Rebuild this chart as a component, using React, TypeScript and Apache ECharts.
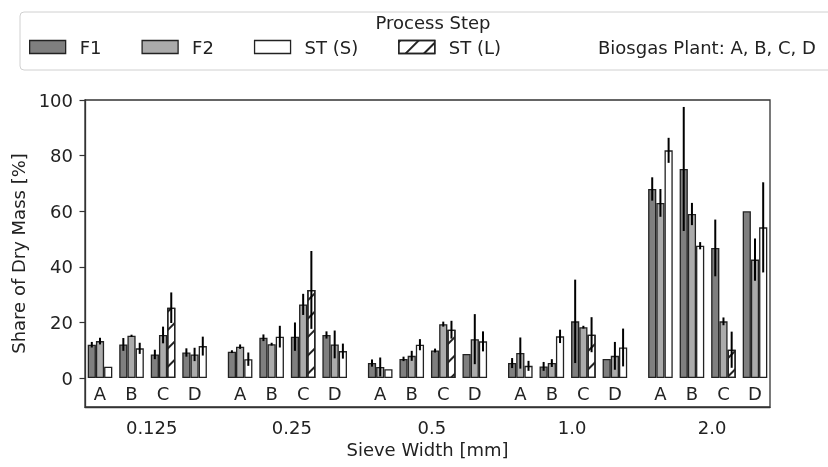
import React, { useEffect, useRef } from "react";
import * as echarts from "echarts";

const SIEVES = ["0.125", "0.25", "0.5", "1.0", "2.0"];
const PLANTS = ["A", "B", "C", "D"];
const Y_TICKS = [0, 20, 40, 60, 80, 100];

// values per sieve (rows) and plant A..D (columns)
const F1_VALUES = [
  [12, 12.1, 8.5, 9.2],
  [9.5, 14.5, 14.9, 15.5],
  [5.4, 6.9, 9.9, 8.7],
  [5.4, 4.2, 20.4, 6.9],
  [68, 75.2, 46.8, 60],
];
const F1_ERR = [
  [1, 2.3, 1.7, 1.5],
  [0.5, 1.2, 5.1, 1.3],
  [1.3, 0.8, 0.7, 0],
  [1.8, 1.6, 15, 0],
  [4.2, 22.3, 10.2, 0],
];
const F2_VALUES = [
  [13.3, 15.2, 15.5, 8.5],
  [11.3, 12.2, 26.5, 12.1],
  [4, 8, 19.4, 14],
  [9, 5.4, 18.3, 8],
  [63, 59, 20.4, 42.6],
];
const F2_ERR = [
  [1.2, 0.4, 3, 2.4],
  [0.8, 0.5, 3.8, 5],
  [3.4, 1.8, 0.9, 9],
  [5.6, 1.4, 0.5, 5],
  [5, 4, 1.4, 7.6],
];
// ST (S): plants A, B, D (C is null)
const ST_S_VALUES = [
  [4.1, 10.7, null, 11.5],
  [6.8, 14.9, null, 9.7],
  [3.2, 12, null, 13.2],
  [4.4, 15, null, 11],
  [81.9, 47.6, null, 54.2],
];
const ST_S_ERR = [
  [0, 2, null, 3.4],
  [2.4, 3.9, null, 2.7],
  [0, 2, null, 3.6],
  [1.8, 2.4, null, 6.8],
  [4.5, 1.3, null, 16.2],
];
// ST (L): plant C only, per sieve
const ST_L_VALUES = [25.3, 31.7, 17.4, 15.6, 10.2];
const ST_L_ERR = [5.5, 14, 3.2, 6.3, 6.5];

const GROUP_STEP = 4.444;
const X_MIN = -0.476;
const X_MAX = 4 * GROUP_STEP + 3 + 0.476;
const BAR_PX = 8.2;
const LABEL_SHIFT = 1.64;

const FONT = "DejaVu Sans";
const TXT = "#222";
const EDGE = "#222";

const plantX = (g: number, p: number) => g * GROUP_STEP + p;

const HATCH = {
  symbol: "rect",
  symbolSize: 1,
  color: "#222",
  backgroundColor: "#ffffff",
  dashArrayX: [1, 0],
  dashArrayY: [1.3, 11],
  rotation: -Math.PI / 4,
};

export default function App() {
  const ref = useRef<HTMLDivElement>(null);
  useEffect(() => {
    if (!ref.current) return;
    const chart = echarts.init(ref.current, undefined, { renderer: "svg" });

    const plantPos: number[] = [];
    const plantLbl: string[] = [];
    SIEVES.forEach((_, g) =>
      PLANTS.forEach((pl, p) => {
        plantPos.push(plantX(g, p));
        plantLbl.push(pl);
      })
    );
    const sievePos = SIEVES.map((_, g) => g * GROUP_STEP + LABEL_SHIFT);

    const f1: any[] = [];
    const f2: any[] = [];
    const sts: any[] = [];
    const stl: any[] = [];
    const errs: any[] = [];
    SIEVES.forEach((_, g) => {
      PLANTS.forEach((__, p) => {
        const x = plantX(g, p);
        f1.push([x, F1_VALUES[g][p]]);
        errs.push([x, F1_VALUES[g][p], F1_ERR[g][p], 0]);
        f2.push([x, F2_VALUES[g][p]]);
        errs.push([x, F2_VALUES[g][p], F2_ERR[g][p], 1]);
        const s = ST_S_VALUES[g][p];
        if (s !== null) {
          sts.push([x, s]);
          errs.push([x, s, ST_S_ERR[g][p] as number, 2]);
        } else {
          stl.push([x, ST_L_VALUES[g]]);
          errs.push([x, ST_L_VALUES[g], ST_L_ERR[g], 2]);
        }
      });
    });

    const lookup = (arr: number[], lbls: string[]) => (v: number) => {
      for (let i = 0; i < arr.length; i++) if (Math.abs(arr[i] - v) < 1e-6) return lbls[i];
      return "";
    };

    const barBase = {
      type: "bar",
      barWidth: BAR_PX,
      barGap: "0%",
      xAxisIndex: 0,
      yAxisIndex: 0,
    };

    chart.setOption({
      animation: false,
      textStyle: { fontFamily: FONT },
      grid: {
        left: 85,
        top: 100,
        width: 685,
        height: 307,
        show: true,
        borderColor: "#333",
        borderWidth: 1.3,
        backgroundColor: "transparent",
      },
      legend: {
        data: ["F1", "F2", "ST (S)", "ST (L)"],
        left: 29,
        top: 38,
        padding: 0,
        icon: "rect",
        itemWidth: 36,
        itemHeight: 13,
        itemGap: 40,
        selectedMode: false,
        itemStyle: { borderWidth: 1.3, borderColor: EDGE },
        textStyle: { fontSize: 18, color: TXT, fontFamily: FONT, padding: [0, 0, 0, 9] },
      },
      graphic: [
        {
          type: "rect",
          shape: { x: 20, y: 12, width: 900, height: 58, r: 4 },
          style: { fill: "#fff", stroke: "#d0d0d0", lineWidth: 1 },
          z: -10,
        },
        {
          type: "text",
          x: 433,
          y: 22,
          style: { text: "Process Step", fontSize: 18, fontFamily: FONT, fill: TXT, align: "center", verticalAlign: "middle" },
        },
        {
          type: "text",
          x: 598,
          y: 47,
          style: { text: "Biosgas Plant: A, B, C, D", fontSize: 18, fontFamily: FONT, fill: TXT, align: "left", verticalAlign: "middle" },
        },
      ],
      xAxis: [
        {
          type: "value",
          min: X_MIN,
          max: X_MAX,
          splitLine: { show: false },
          axisLine: { show: true, onZero: false, lineStyle: { color: "#333", width: 1.3 } },
          axisTick: { show: false },
          axisLabel: {
            customValues: sievePos,
            formatter: lookup(sievePos, SIEVES),
            fontSize: 18,
            color: TXT,
            fontFamily: FONT,
            margin: 11,
          },
          name: "Sieve Width [mm]",
          nameLocation: "middle",
          nameGap: 31,
          nameTextStyle: { fontSize: 18, color: TXT, fontFamily: FONT },
        },
        {
          type: "value",
          min: X_MIN,
          max: X_MAX,
          position: "bottom",
          splitLine: { show: false },
          axisLine: { show: false, onZero: false },
          axisTick: { show: false },
          axisLabel: {
            inside: true,
            customValues: plantPos,
            formatter: lookup(plantPos, plantLbl),
            fontSize: 18,
            color: TXT,
            fontFamily: FONT,
            margin: 5,
          },
        },
      ],
      yAxis: {
        type: "value",
        min: -10.4,
        max: 100,
        splitLine: { show: false },
        axisLine: { show: true, onZero: false, lineStyle: { color: "#333", width: 1.3 } },
        axisTick: { show: true, length: 5.5, customValues: Y_TICKS, lineStyle: { color: "#333", width: 1.2 } },
        axisLabel: { customValues: Y_TICKS, fontSize: 18, color: TXT, fontFamily: FONT, margin: 12 },
        name: "Share of Dry Mass [%]",
        nameLocation: "middle",
        nameGap: 57,
        nameTextStyle: { fontSize: 18, color: TXT, fontFamily: FONT },
      },
      series: [
        { ...barBase, name: "F1", data: f1, itemStyle: { color: "#7f7f7f", borderColor: EDGE, borderWidth: 1.3 } },
        { ...barBase, name: "F2", data: f2, itemStyle: { color: "#ababab", borderColor: EDGE, borderWidth: 1.3 } },
        { ...barBase, name: "ST (S)", stack: "st", data: sts, itemStyle: { color: "#ffffff", borderColor: EDGE, borderWidth: 1.3 } },
        {
          ...barBase,
          name: "ST (L)",
          stack: "st",
          data: stl,
          itemStyle: { color: "#ffffff", borderColor: EDGE, borderWidth: 1.3, decal: HATCH },
        },
        {
          type: "custom",
          name: "err",
          xAxisIndex: 0,
          yAxisIndex: 0,
          z: 10,
          data: errs,
          encode: { x: 0, y: 1 },
          renderItem: (params: any, api: any) => {
            const x = api.value(0);
            const y = api.value(1);
            const e = api.value(2);
            const slot = api.value(3);
            if (!e) return { type: "group", children: [] };
            const px = api.coord([x, y])[0] + (slot - 1) * BAR_PX;
            const top = api.coord([x, y + e])[1];
            const bot = api.coord([x, y - e])[1];
            return {
              type: "line",
              shape: { x1: px, y1: top, x2: px, y2: bot },
              style: { stroke: "#000", lineWidth: 2 },
            };
          },
        },
      ],
    });
    return () => chart.dispose();
  }, []);
  return <div ref={ref} style={{ position: "fixed", left: 0, top: 0, width: 828, height: 467 }} />;
}
